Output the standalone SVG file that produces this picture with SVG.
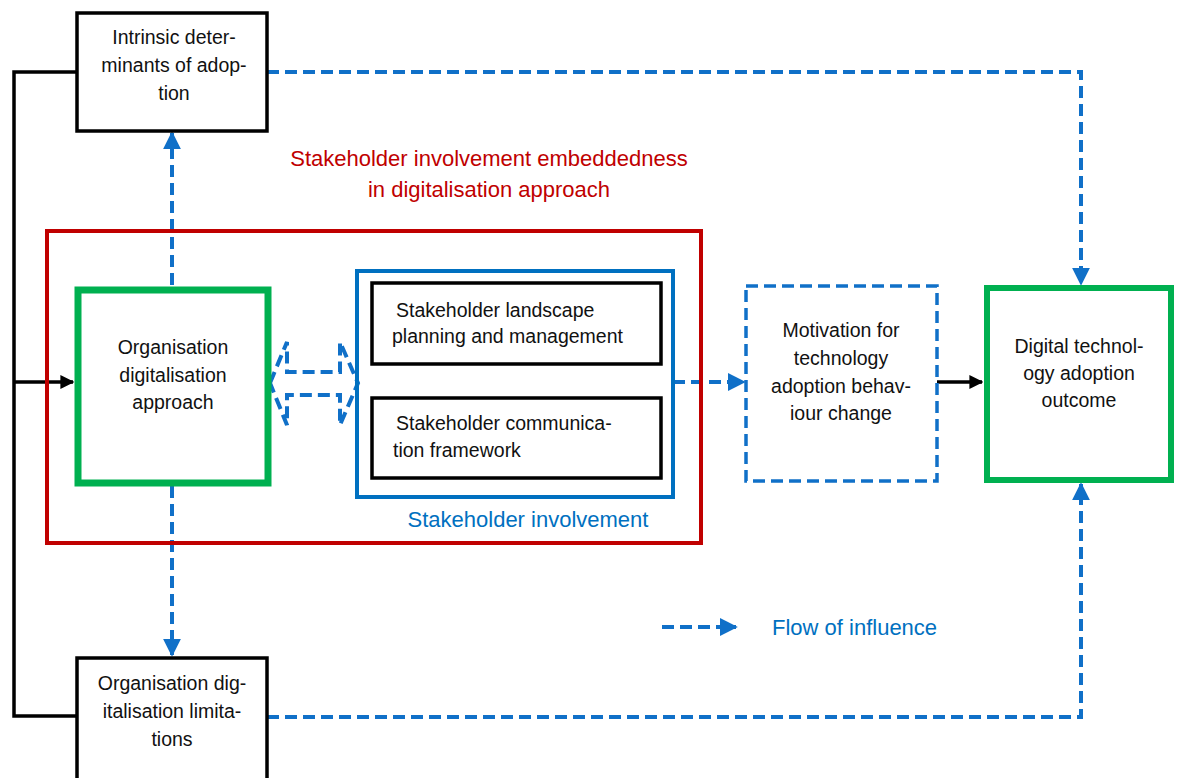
<svg xmlns="http://www.w3.org/2000/svg" width="1177" height="778" viewBox="0 0 1177 778">
<defs>
<style>
.t{font-family:"Liberation Sans",Arial,sans-serif;font-size:19.5px;fill:#111;text-anchor:middle}
.tl{font-family:"Liberation Sans",Arial,sans-serif;font-size:19.5px;fill:#111}
.lab{font-family:"Liberation Sans",Arial,sans-serif;font-size:22px}
.box{fill:#fff;stroke:#000;stroke-width:3.5}
.dash{fill:none;stroke:#1070C8;stroke-width:4;stroke-dasharray:12,6}
.solid{fill:none;stroke:#000;stroke-width:3.5}
</style>
<marker id="ab" viewBox="0 0 10 10" refX="9" refY="5" markerWidth="4.5" markerHeight="4.5" orient="auto" markerUnits="strokeWidth"><path d="M0,0 L10,5 L0,10 z" fill="#1070C8"/></marker>
<marker id="ak" viewBox="0 0 10 10" refX="9" refY="5" markerWidth="4" markerHeight="4" orient="auto" markerUnits="strokeWidth"><path d="M0,0 L10,5 L0,10 z" fill="#000"/></marker>
</defs>
<rect width="1177" height="778" fill="#fff"/>

<g id="connectors">
<path class="solid" d="M76,72 H14 V716 H76"/>
<path class="solid" d="M14,382 H73" marker-end="url(#ak)"/>
<path class="solid" d="M937,382 H982" marker-end="url(#ak)"/>
<path class="dash" d="M267,72 H1081 V284" marker-end="url(#ab)"/>
<path class="dash" d="M267,717 H1081 V484" marker-end="url(#ab)"/>
<path class="dash" d="M172,285 V133" marker-end="url(#ab)"/>
<path class="dash" d="M172,486 V655" marker-end="url(#ab)"/>
<path class="dash" d="M673,382 H744" marker-end="url(#ab)"/>
<path class="dash" stroke-dasharray="10,6" stroke-width="3.5" d="M270,383 L287,342 V372 H340 V342 L358,383 L340,425 V395 H287 V425 Z"/>
</g>

<g id="embeddedness">
<rect x="47" y="231" width="654" height="312" fill="none" stroke="#C00000" stroke-width="4"/>
<text class="lab" x="489" y="166" fill="#C00000" text-anchor="middle">Stakeholder involvement embeddedness</text>
<text class="lab" x="489" y="197" fill="#C00000" text-anchor="middle">in digitalisation approach</text>
</g>

<g id="involvement">
<rect x="357" y="271" width="316" height="226" fill="none" stroke="#0070C0" stroke-width="4"/>
<text class="lab" x="528" y="527" fill="#0070C0" text-anchor="middle">Stakeholder involvement</text>
</g>

<g id="intrinsic">
<rect class="box" x="77" y="13" width="190" height="118"/>
<text class="t" x="174" y="44">Intrinsic deter-</text>
<text class="t" x="174" y="72">minants of adop-</text>
<text class="t" x="174" y="100">tion</text>
</g>

<g id="limitations">
<rect class="box" x="77" y="658" width="190" height="130"/>
<text class="t" x="172" y="690">Organisation dig-</text>
<text class="t" x="172" y="718">italisation limita-</text>
<text class="t" x="172" y="746">tions</text>
</g>

<g id="org">
<rect x="78" y="290" width="190" height="193" fill="#fff" stroke="#00B050" stroke-width="7"/>
<text class="t" x="173" y="354">Organisation</text>
<text class="t" x="173" y="382">digitalisation</text>
<text class="t" x="173" y="409">approach</text>
</g>

<g id="landscape">
<rect class="box" x="372" y="283" width="289" height="81"/>
<text class="tl" x="396" y="317">Stakeholder landscape</text>
<text class="tl" x="392" y="343">planning and management</text>
</g>

<g id="communication">
<rect class="box" x="372" y="398" width="289" height="80"/>
<text class="tl" x="396" y="430">Stakeholder communica-</text>
<text class="tl" x="393" y="457">tion framework</text>
</g>

<g id="motivation">
<rect x="746" y="286" width="191" height="195" fill="#fff" stroke="#1070C8" stroke-width="3.5" stroke-dasharray="12,6"/>
<text class="t" x="841" y="337">Motivation for</text>
<text class="t" x="841" y="365">technology</text>
<text class="t" x="841" y="393">adoption behav-</text>
<text class="t" x="841" y="420">iour change</text>
</g>

<g id="outcome">
<rect x="987" y="288" width="184" height="192" fill="#fff" stroke="#00B050" stroke-width="6"/>
<text class="t" x="1079" y="353">Digital technol-</text>
<text class="t" x="1079" y="380">ogy adoption</text>
<text class="t" x="1079" y="407">outcome</text>
</g>

<g id="legend">
<path class="dash" d="M662,627 H736" stroke-dasharray="10,5" marker-end="url(#ab)"/>
<text class="lab" x="772" y="635" fill="#0070C0">Flow of influence</text>
</g>
</svg>
